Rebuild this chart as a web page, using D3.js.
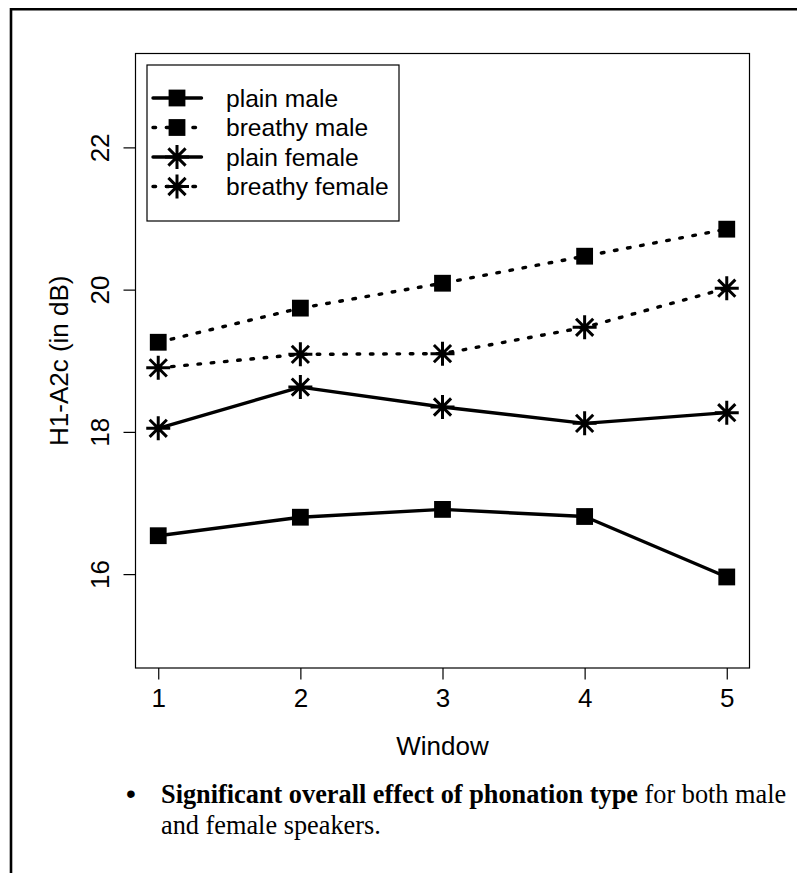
<!DOCTYPE html>
<html>
<head>
<meta charset="utf-8">
<script src="https://cdn.jsdelivr.net/npm/d3@7"></script>
<style>
  html, body { margin: 0; padding: 0; background: #fff; }
  svg { display: block; }
</style>
</head>
<body>
<div id="chart"></div>
<script>
// ---- data ----
const windows = [1, 2, 3, 4, 5];
const plainMale     = [16.54, 16.80, 16.91, 16.81, 15.96];
const breathyMale   = [19.26, 19.74, 20.09, 20.47, 20.85];
const plainFemale   = [18.05, 18.63, 18.35, 18.12, 18.27];
const breathyFemale = [18.90, 19.09, 19.10, 19.47, 20.02];
const seriesNames = ["plain male", "breathy male", "plain female", "breathy female"];
const yTicks = [16, 18, 20, 22];
const xTicks = [1, 2, 3, 4, 5];
const xLabel = "Window";
const yLabel = "H1-A2c (in dB)";

const series = [
  { name: seriesNames[0], values: plainMale,     dotted: false, shape: "square" },
  { name: seriesNames[1], values: breathyMale,   dotted: true,  shape: "square" },
  { name: seriesNames[2], values: plainFemale,   dotted: false, shape: "star" },
  { name: seriesNames[3], values: breathyFemale, dotted: true,  shape: "star" }
];

const W = 797, H = 873;
const svg = d3.select("#chart").append("svg").attr("width", W).attr("height", H);

// outer slide frame (left & top edges)
svg.append("path").attr("d", `M11,${H} L11,9.3 L${W},9.3`)
  .attr("fill", "none").attr("stroke", "#000").attr("stroke-width", 2.6);

const pLeft = 135.5, pRight = 749.5, pTop = 53.5, pBottom = 668;
const x = d3.scaleLinear().domain([0.84, 5.16]).range([pLeft, pRight]);
const y = d3.scaleLinear().domain([14.68, 23.32]).range([pBottom, pTop]);

const sans = "Liberation Sans, Arial, Helvetica, sans-serif";
const serif = "Liberation Serif, Times New Roman, serif";
const AX_FS = 26;

// box
svg.append("rect").attr("x", pLeft).attr("y", pTop)
  .attr("width", pRight - pLeft).attr("height", pBottom - pTop)
  .attr("fill", "none").attr("stroke", "#000").attr("stroke-width", 1.2);

// x axis
const xAxis = d3.axisBottom(x).tickValues(xTicks).tickSize(11.5).tickPadding(9).tickFormat(d3.format("d"));
const gx = svg.append("g").attr("transform", `translate(0,${pBottom})`).call(xAxis);
gx.select(".domain").remove();
gx.selectAll("line").attr("stroke", "#000").attr("stroke-width", 1.2);
gx.selectAll("text").attr("font-family", sans).attr("font-size", AX_FS).attr("fill", "#000");

// y axis
const yAxis = d3.axisLeft(y).tickValues(yTicks).tickSize(12).tickFormat(d3.format("d"));
const gy = svg.append("g").attr("transform", `translate(${pLeft},0)`).call(yAxis);
gy.select(".domain").remove();
gy.selectAll("line").attr("stroke", "#000").attr("stroke-width", 1.2);
gy.selectAll("text")
  .attr("font-family", sans).attr("font-size", AX_FS).attr("fill", "#000")
  .attr("x", null)
  .attr("text-anchor", "middle")
  .attr("transform", "translate(-35.5,0) rotate(-90)")
  .attr("dy", "0.36em");

// axis labels
svg.append("text").attr("x", (pLeft + pRight) / 2).attr("y", 755)
  .attr("text-anchor", "middle").attr("font-family", sans).attr("font-size", AX_FS)
  .text(xLabel);
svg.append("text")
  .attr("transform", `translate(59,${(pTop + pBottom) / 2}) rotate(-90)`)
  .attr("text-anchor", "middle").attr("dy", "0.36em")
  .attr("font-family", sans).attr("font-size", AX_FS)
  .text(yLabel);

const LW = 3.4;
const DASH = "2.6,10.7";

function drawMarker(g, shape, cx, cy) {
  if (shape === "square") {
    const s = 16.8;
    g.append("rect").attr("x", cx - s / 2).attr("y", cy - s / 2)
      .attr("width", s).attr("height", s).attr("fill", "#000");
  } else {
    const r = 12, d = 8.6;
    const p = `M${cx},${cy - r}L${cx},${cy + r}M${cx - r},${cy}L${cx + r},${cy}` +
      `M${cx - d},${cy - d}L${cx + d},${cy + d}M${cx - d},${cy + d}L${cx + d},${cy - d}`;
    g.append("path").attr("d", p).attr("stroke", "#000").attr("stroke-width", 3).attr("fill", "none");
  }
}

const line = d3.line().x((d, i) => x(windows[i])).y(d => y(d));

series.forEach(s => {
  const g = svg.append("g");
  g.append("path").attr("d", line(s.values))
    .attr("fill", "none").attr("stroke", "#000").attr("stroke-width", LW)
    .attr("stroke-linecap", "round").attr("stroke-linejoin", "round")
    .attr("stroke-dasharray", s.dotted ? DASH : null);
  s.values.forEach((v, i) => drawMarker(g, s.shape, x(windows[i]), y(v)));
});

// legend
const lg = svg.append("g");
lg.append("rect").attr("x", 147).attr("y", 65).attr("width", 252).attr("height", 156)
  .attr("fill", "#fff").attr("stroke", "#000").attr("stroke-width", 1.2);
series.forEach((s, i) => {
  const cy = 98 + i * 29.5;
  lg.append("line").attr("x1", 153).attr("x2", 201.5).attr("y1", cy).attr("y2", cy)
    .attr("stroke", "#000").attr("stroke-width", LW).attr("stroke-linecap", "round")
    .attr("stroke-dasharray", s.dotted ? DASH : null);
  drawMarker(lg, s.shape, 177, cy);
  lg.append("text").attr("x", 226).attr("y", cy + 8.5)
    .attr("font-family", sans).attr("font-size", 24.6).text(s.name);
});

// bullet text
const bt = svg.append("g").attr("font-family", serif).attr("font-size", 26.3).attr("fill", "#000");
bt.append("text").attr("x", 126).attr("y", 803).attr("font-family", sans).attr("font-size", 28).text("•");
const t1 = bt.append("text").attr("x", 161).attr("y", 803);
t1.append("tspan").attr("font-weight", "bold").text("Significant overall effect of phonation type");
t1.append("tspan").text(" for both male");
bt.append("text").attr("x", 161).attr("y", 834).text("and female speakers.");
</script>
</body>
</html>
